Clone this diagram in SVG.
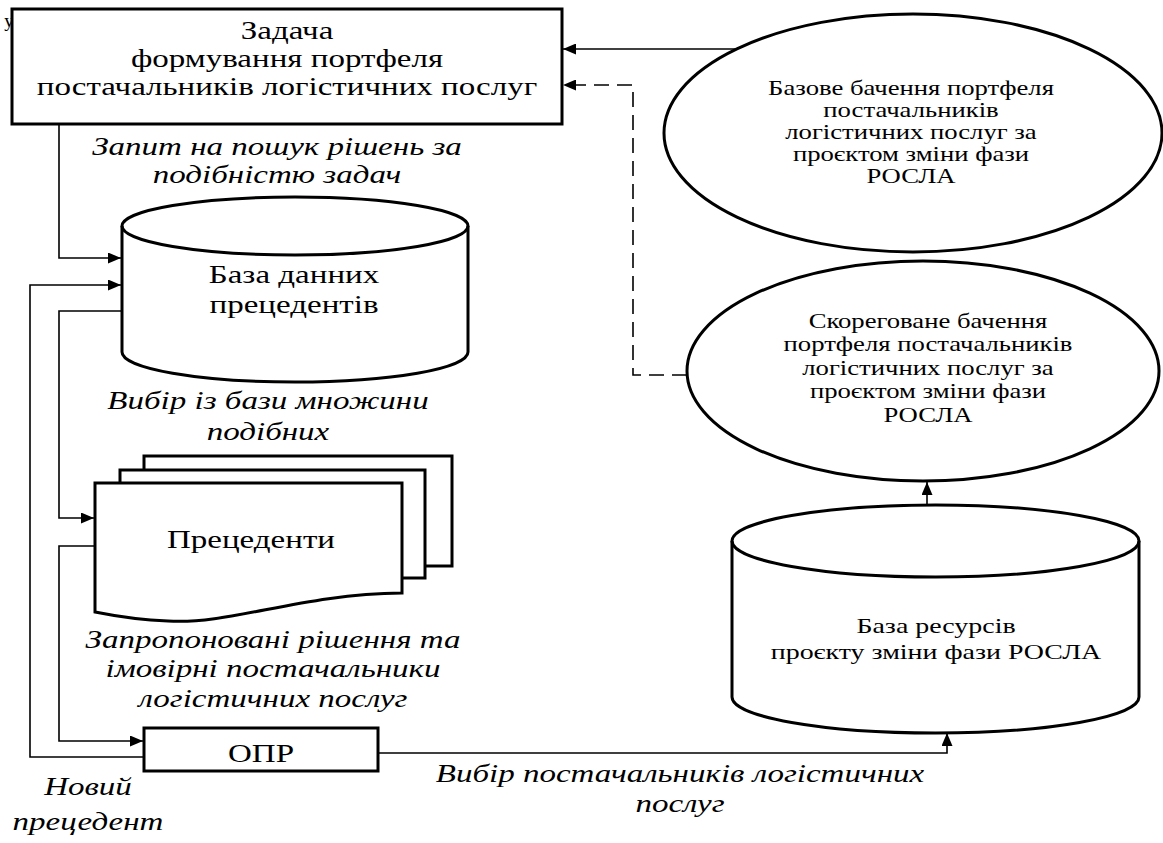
<svg xmlns="http://www.w3.org/2000/svg" width="1163" height="843" viewBox="0 0 1163 843">
<defs>
<style>
.shape{fill:#fff;stroke:#000;stroke-width:3}
.conn{fill:none;stroke:#000;stroke-width:1.6}
.dash{stroke-dasharray:15 8}
.t{font-family:'Liberation Serif','Times New Roman',serif;fill:#000;text-anchor:middle}
.m{font-size:26px}
.s{font-size:21px}
.c{font-size:22px}
.i{font-style:italic;font-size:26px}
</style>
<marker id="ah" markerUnits="userSpaceOnUse" markerWidth="13" markerHeight="11" refX="13" refY="5.5" orient="auto">
<path d="M0,0 L13,5.5 L0,11 z" fill="#000"/>
</marker>
</defs>
<rect width="1163" height="843" fill="#fff"/>
<text class="t" x="9" y="27" style="font-size:19px">у</text>

<g id="connectors">
<path class="conn" d="M59,124 V258 H121" marker-end="url(#ah)"/>
<path class="conn" d="M122,311 H59 V518 H94" marker-end="url(#ah)"/>
<path class="conn" d="M95,546 H59 V741 H143" marker-end="url(#ah)"/>
<path class="conn" d="M144,757 H30 V285 H121" marker-end="url(#ah)"/>
<path class="conn" d="M378,753 H947 V733" marker-end="url(#ah)"/>
<path class="conn" d="M927,505 V482" marker-end="url(#ah)"/>
<path class="conn" d="M737,49 H563" marker-end="url(#ah)"/>
<path class="conn dash" d="M687,375 H633 V85 H563" marker-end="url(#ah)"/>
</g>

<g id="task">
<rect class="shape" x="12" y="9" width="550" height="115"/>
<text class="t m" transform="translate(287,39) scale(1.27,1)"><tspan x="0" y="0">Задача</tspan><tspan x="0" y="28">формування портфеля</tspan><tspan x="0" y="56">постачальників логістичних послуг</tspan></text>
</g>

<g id="label-query">
<text class="t i" transform="translate(277,155) scale(1.27,1)"><tspan x="0" y="0">Запит на пошук рішень за</tspan><tspan x="0" y="28.5">подібністю задач</tspan></text>
</g>

<g id="db-precedents">
<path class="shape" d="M122,226 A173,29 0 0 1 468,226 V352 A173,30 0 0 1 122,352 Z"/>
<path class="shape" style="fill:none" d="M122,226 A173,29 0 0 0 468,226"/>
<text class="t m" transform="translate(294,283) scale(1.27,1)"><tspan x="0" y="0">База данних</tspan><tspan x="0" y="30">прецедентів</tspan></text>
</g>

<g id="label-select">
<text class="t i" transform="translate(268,409) scale(1.27,1)"><tspan x="0" y="0">Вибір із бази множини</tspan><tspan x="0" y="31">подібних</tspan></text>
</g>

<g id="precedents">
<rect class="shape" x="144" y="456" width="308" height="110"/>
<rect class="shape" x="120" y="470" width="305" height="108"/>
<path class="shape" d="M95,483 H402 V593 C300,594 230,625 168,621 C140,620 115,616 95,612 Z"/>
<text class="t m" transform="translate(251,548) scale(1.27,1)">Прецеденти</text>
</g>

<g id="label-proposed">
<text class="t i" transform="translate(273,648) scale(1.27,1)"><tspan x="0" y="0">Запропоновані рішення та</tspan><tspan x="0" y="29.5">імовірні постачальники</tspan><tspan x="0" y="59">логістичних послуг</tspan></text>
</g>

<g id="dm">
<rect class="shape" x="144" y="728" width="234" height="43"/>
<text class="t m" transform="translate(261,762) scale(1.27,1)">ОПР</text>
</g>

<g id="label-new">
<text class="t i" transform="translate(88,795) scale(1.27,1)"><tspan x="0" y="0">Новий</tspan><tspan x="0" y="35">прецедент</tspan></text>
</g>

<g id="label-choice">
<text class="t i" transform="translate(680,782) scale(1.27,1)"><tspan x="0" y="0">Вибір постачальників логістичних</tspan><tspan x="0" y="30">послуг</tspan></text>
</g>

<g id="vision-base">
<ellipse class="shape" cx="913" cy="133" rx="249" ry="119"/>
<text class="t s" transform="translate(911,95) scale(1.27,1)"><tspan x="0" y="0">Базове бачення портфеля</tspan><tspan x="0" y="22">постачальників</tspan><tspan x="0" y="44">логістичних послуг за</tspan><tspan x="0" y="66">проєктом зміни фази</tspan><tspan x="0" y="88">РОСЛА</tspan></text>
</g>

<g id="vision-corrected">
<ellipse class="shape" cx="923" cy="371" rx="236" ry="110"/>
<text class="t s" transform="translate(928,328) scale(1.27,1)"><tspan x="0" y="0">Скореговане бачення</tspan><tspan x="0" y="23.5">портфеля постачальників</tspan><tspan x="0" y="47">логістичних послуг за</tspan><tspan x="0" y="70.5">проєктом зміни фази</tspan><tspan x="0" y="94">РОСЛА</tspan></text>
</g>

<g id="db-resources">
<path class="shape" d="M732,541 A203.5,36 0 0 1 1139,541 V697 A203.5,36 0 0 1 732,697 Z"/>
<path class="shape" style="fill:none" d="M732,541 A203.5,36 0 0 0 1139,541"/>
<text class="t c" transform="translate(936,633) scale(1.27,1)"><tspan x="0" y="0">База ресурсів</tspan><tspan x="0" y="26">проєкту зміни фази РОСЛА</tspan></text>
</g>
</svg>
